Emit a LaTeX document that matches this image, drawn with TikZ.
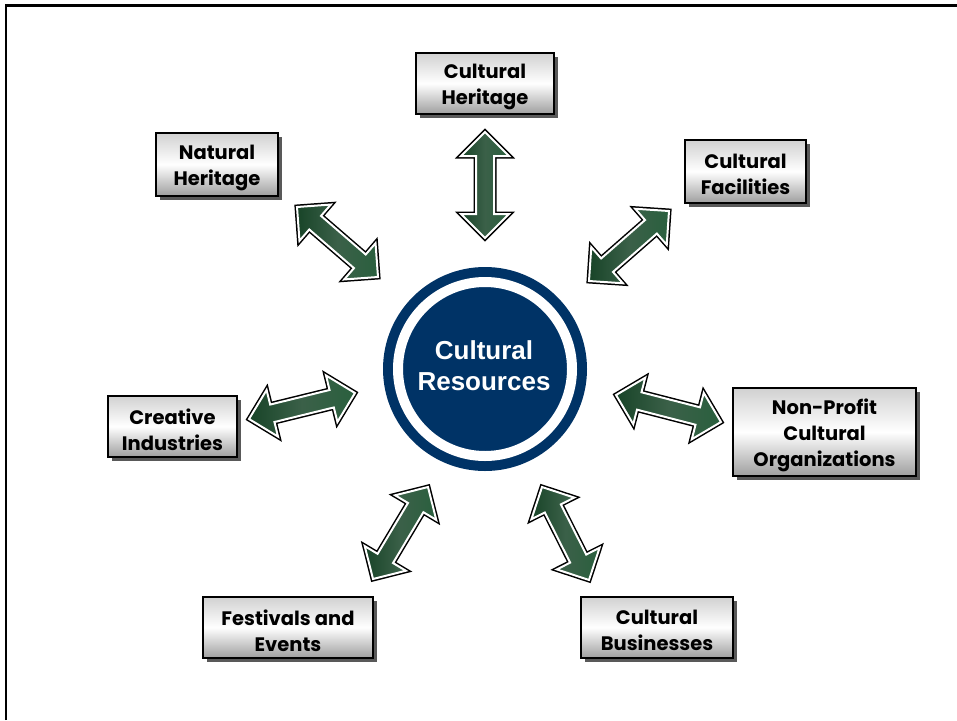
\documentclass[tikz,border=0pt]{standalone}
\usepackage{fontspec}
\setmainfont{Liberation Sans}
\newfontfamily\boxfont{Poppins}
\usetikzlibrary{calc,shadows}
\definecolor{navy}{RGB}{0,51,102}
\definecolor{marble}{RGB}{24,68,40}
\definecolor{marblelight}{RGB}{42,96,62}
\newcommand\ah{24pt}
\newcommand\hw{24pt}
\newcommand\sw{9pt}
\newcommand\dblarr[2]{%
  \draw[arrowbody] (#1)
    -- ($(#1)!\ah!(#2)!\hw!90:(#2)$)
    -- ($(#1)!\ah!(#2)!\sw!90:(#2)$)
    -- ($(#2)!\ah!(#1)!\sw!-90:(#1)$)
    -- ($(#2)!\ah!(#1)!\hw!-90:(#1)$)
    -- (#2)
    -- ($(#2)!\ah!(#1)!\hw!90:(#1)$)
    -- ($(#2)!\ah!(#1)!\sw!90:(#1)$)
    -- ($(#1)!\ah!(#2)!\sw!-90:(#2)$)
    -- ($(#1)!\ah!(#2)!\hw!-90:(#2)$)
    -- cycle;}
\tikzset{
  box/.style={draw=black, line width=1.2pt, top color=black!18, bottom color=black!38,
    middle color=white, inner sep=0pt,
    drop shadow={shadow xshift=4pt, shadow yshift=-4pt, opacity=1, fill=black!65}},
  boxtext/.style={align=center, inner sep=0pt, yshift=-3pt,
    font=\boxfont\bfseries\fontsize{19.5}{26}\selectfont},
  arrowbody/.style={draw=white, line width=2pt, line join=miter,
    left color=marble, right color=marblelight, middle color=marble!85!white,
    preaction={draw=black, line width=5pt, line join=miter}},
}
\begin{document}
\begin{tikzpicture}[x=1pt,y=-1pt]
\useasboundingbox (0,0) rectangle (957,720);
\fill[white] (0,0) rectangle (957,720);
\draw[line width=2.5pt] (6,720) -- (6,5.5) -- (957,5.5);

% centre
\node[circle, fill=navy, minimum size=204pt, inner sep=0pt] (core) at (485,369) {};
\node[circle, draw=white, line width=10pt, minimum size=174pt, inner sep=0pt] (ring) at (core.center) {};
\node[text=white, align=center, font=\bfseries\fontsize{26}{31}\selectfont] (label) at (484,366) {Cultural\\Resources};

% boxes
\node[box, minimum width=138pt, minimum height=61pt, label={[boxtext]center:{Cultural\\Heritage}}] (heritage) at (485,83.5) {};
\node[box, minimum width=122pt, minimum height=63pt, label={[boxtext]center:{Natural\\Heritage}}] (natural) at (217,164.5) {};
\node[box, minimum width=121pt, minimum height=63pt, label={[boxtext]center:{Cultural\\Facilities}}] (facilities) at (745.5,171.5) {};
\node[box, minimum width=129pt, minimum height=61pt, label={[boxtext]center:{Creative\\Industries}}] (creative) at (172.5,426.5) {};
\node[box, minimum width=183pt, minimum height=88pt, label={[boxtext]center:{Non-Profit\\Cultural\\Organizations}}] (nonprofit) at (824.5,432) {};
\node[box, minimum width=170pt, minimum height=61pt, label={[boxtext]center:{Festivals and\\Events}}] (festivals) at (288,627.5) {};
\node[box, minimum width=152pt, minimum height=61pt, label={[boxtext]center:{Cultural\\Businesses}}] (businesses) at (657,627.5) {};

% arrow ends
\coordinate (h1) at (485,132);   \coordinate (h2) at (485,238);
\coordinate (n1) at (297,207);   \coordinate (n2) at (378,277);
\coordinate (f1) at (669,211);   \coordinate (f2) at (589,281);
\coordinate (c1) at (249,419);   \coordinate (c2) at (355,393);
\coordinate (p1) at (616,395);   \coordinate (p2) at (721,422);
\coordinate (e1) at (428,487);   \coordinate (e2) at (373,579);
\coordinate (b1) at (542,487);   \coordinate (b2) at (589,580);

\dblarr{h1}{h2}
\dblarr{n1}{n2}
\dblarr{f1}{f2}
\dblarr{c1}{c2}
\dblarr{p1}{p2}
\dblarr{e1}{e2}
\dblarr{b1}{b2}
\end{tikzpicture}
\end{document}
